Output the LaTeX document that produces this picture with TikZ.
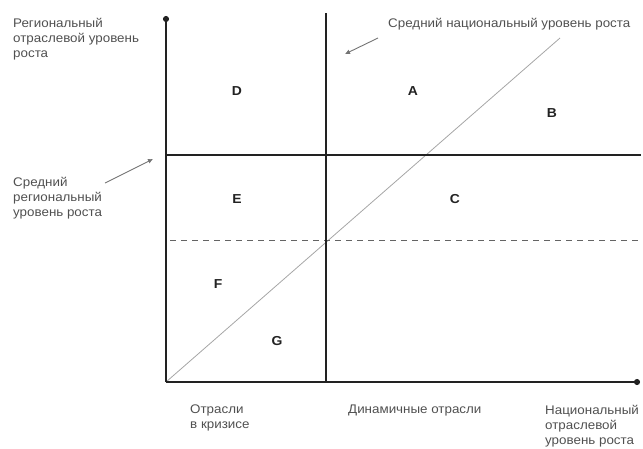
\documentclass[tikz,border=0pt]{standalone}
\usepackage{fontspec}
\setmainfont[FakeStretch=1.07]{Liberation Sans}
\usetikzlibrary{arrows.meta}
\definecolor{txt}{HTML}{505050}
\definecolor{ln}{HTML}{222222}
\tikzset{
  lbl/.style={text=txt,font=\fontsize{12.5}{15}\selectfont,align=left,inner sep=0pt},
  zone/.style={text=ln,font=\fontsize{13}{15}\selectfont\bfseries,inner sep=0pt},
  axis/.style={draw=ln,line width=1.7pt,-{Circle[length=6pt]}},
  level/.style={draw=ln,line width=1.5pt},
  dashlevel/.style={draw=ln!70,line width=1pt,dash pattern=on 6pt off 5pt},
  diag/.style={draw=black!35,line width=0.8pt},
  pointer/.style={draw=black!55,line width=0.9pt,-{Latex[length=5pt,width=5pt]}}
}
\begin{document}
\begin{tikzpicture}[x=1pt,y=-1pt]
\useasboundingbox (0,0) rectangle (643,448);
% key points
\coordinate (O) at (166,382);
\coordinate (ytip) at (166,16);
\coordinate (xtip) at (640,382);
\coordinate (vtop) at (326,13);
\coordinate (vbot) at (326,382);
\coordinate (hl) at (166,155);
\coordinate (hr) at (641,155);
\coordinate (dl) at (170,240);
\coordinate (dr) at (638,240);
\coordinate (diagend) at (560,38);
% lines
\draw[diag] (O) -- (diagend);
\draw[dashlevel] (dl) -- (dr);
\draw[level] (hl) -- (hr);
\draw[level] (vtop) -- (vbot);
\draw[axis] (O) -- (ytip);
\draw[axis] (O) -- (xtip);
% zone letters
\node[zone] (D) at (237,91) {D};
\node[zone] (A) at (413,91) {A};
\node[zone] (B) at (552,113) {B};
\node[zone] (E) at (237,199) {E};
\node[zone] (C) at (455,199) {C};
\node[zone] (F) at (218,284) {F};
\node[zone] (G) at (277,341) {G};
% texts
\node[lbl,anchor=north west] (ylab) at (13,18) {Региональный\\отраслевой уровень\\роста};
\node[lbl,anchor=north west] (natavg) at (388,18) {Средний национальный уровень роста};
\node[lbl,anchor=north west] (regavg) at (13,177) {Средний\\региональный\\уровень роста};
\node[lbl,anchor=north west] (crisis) at (190,405) {Отрасли\\в кризисе};
\node[lbl,anchor=north west] (dyn) at (348,405) {Динамичные отрасли};
\node[lbl,anchor=north west] (xlab) at (545,405) {Национальный\\отраслевой\\уровень роста};
% pointers
\coordinate (p1s) at (378,38);
\coordinate (p1e) at (345,54);
\coordinate (p2s) at (105,183);
\coordinate (p2e) at (153,159);
\draw[pointer] (p1s) -- (p1e);
\draw[pointer] (p2s) -- (p2e);
\end{tikzpicture}
\end{document}
